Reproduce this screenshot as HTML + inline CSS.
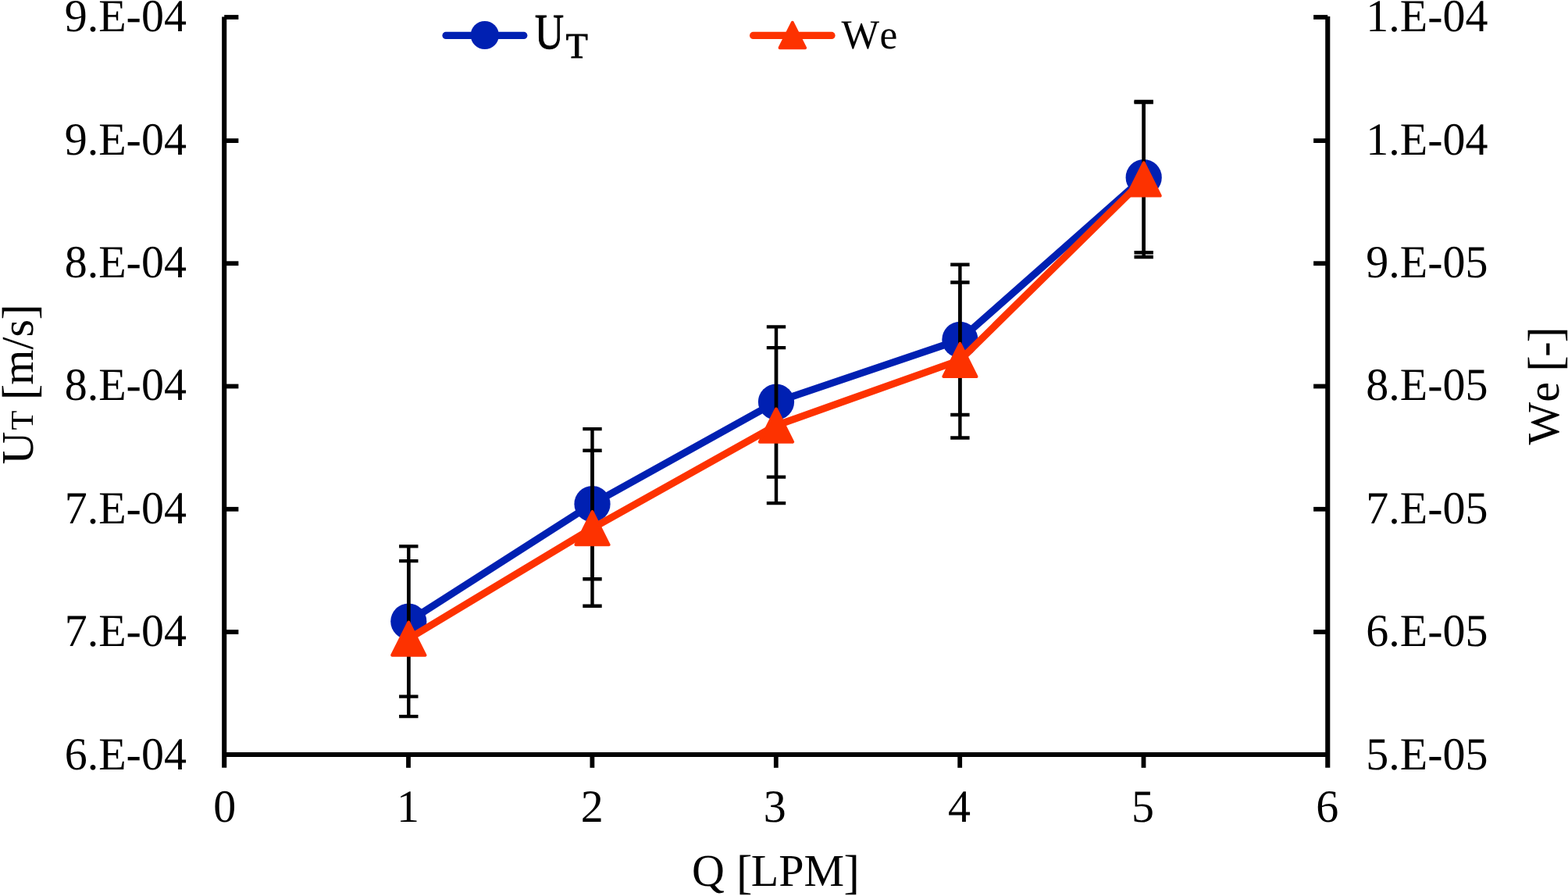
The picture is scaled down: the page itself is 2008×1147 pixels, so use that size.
<!DOCTYPE html>
<html lang="en"><head><meta charset="utf-8"><title>U_T and We versus Q</title>
<style>
html,body{margin:0;padding:0;background:#fff;}
body{width:2008px;height:1147px;overflow:hidden;}
svg{display:block;}
text{font-family:"Liberation Serif", "DejaVu Serif", serif;fill:#000;font-kerning:none;text-rendering:geometricPrecision;}
.tk{font-size:58px;}
.br{font-size:61.1px;}
.ax{stroke:#000;stroke-width:6.1;fill:none;stroke-linecap:butt;}
.tc{stroke:#000;stroke-width:5.8;fill:none;stroke-linecap:butt;}
.eb{stroke:#000;stroke-width:4.4;fill:none;stroke-linecap:butt;}
</style></head><body>
<svg width="2008" height="1147" viewBox="0 0 2008 1147">
<rect width="2008" height="1147" fill="#fff"/>
<g class="ax">
<path d="M287.20 21.50 V982.85"/>
<path d="M1700.25 20.90 V982.85"/>
<path d="M287.20 966.05 H1700.25"/>
</g>
<g class="tc">
<path d="M287.20 22.00 H305.40"/>
<path d="M1700.25 22.00 H1682.10"/>
<path d="M287.20 180.10 H305.40"/>
<path d="M1700.25 180.10 H1682.10"/>
<path d="M287.20 337.20 H305.40"/>
<path d="M1700.25 337.20 H1682.10"/>
<path d="M287.20 494.50 H305.40"/>
<path d="M1700.25 494.50 H1682.10"/>
<path d="M287.20 651.80 H305.40"/>
<path d="M1700.25 651.80 H1682.10"/>
<path d="M287.20 809.00 H305.40"/>
<path d="M1700.25 809.00 H1682.10"/>
<path d="M523.00 966.05 V982.85"/>
<path d="M758.40 966.05 V982.85"/>
<path d="M993.80 966.05 V982.85"/>
<path d="M1229.20 966.05 V982.85"/>
<path d="M1464.50 966.05 V982.85"/>
</g>
<g class="tk">
<text transform="translate(238.9 40.3) scale(1 1.015)" text-anchor="end">9.E-04</text>
<text transform="translate(238.9 197.5) scale(1 1.015)" text-anchor="end">9.E-04</text>
<text transform="translate(238.9 354.8) scale(1 1.015)" text-anchor="end">8.E-04</text>
<text transform="translate(238.9 512.2) scale(1 1.015)" text-anchor="end">8.E-04</text>
<text transform="translate(238.9 669.7) scale(1 1.015)" text-anchor="end">7.E-04</text>
<text transform="translate(238.9 827.2) scale(1 1.015)" text-anchor="end">7.E-04</text>
<text transform="translate(238.9 984.8) scale(1 1.015)" text-anchor="end">6.E-04</text>
<text transform="translate(1749.2 40.3) scale(1 1.015)">1.E-04</text>
<text transform="translate(1749.2 197.5) scale(1 1.015)">1.E-04</text>
<text transform="translate(1749.2 354.8) scale(1 1.015)">9.E-05</text>
<text transform="translate(1749.2 512.2) scale(1 1.015)">8.E-05</text>
<text transform="translate(1749.2 669.7) scale(1 1.015)">7.E-05</text>
<text transform="translate(1749.2 827.2) scale(1 1.015)">6.E-05</text>
<text transform="translate(1749.2 984.8) scale(1 1.015)">5.E-05</text>
<text transform="translate(287.7 1052.0) scale(1 1.015)" text-anchor="middle">0</text>
<text transform="translate(522.4 1052.0) scale(1 1.015)" text-anchor="middle">1</text>
<text transform="translate(758.2 1052.0) scale(1 1.015)" text-anchor="middle">2</text>
<text transform="translate(992.3 1052.0) scale(1 1.015)" text-anchor="middle">3</text>
<text transform="translate(1228.6 1052.0) scale(1 1.015)" text-anchor="middle">4</text>
<text transform="translate(1463.5 1052.0) scale(1 1.015)" text-anchor="middle">5</text>
<text transform="translate(1699.8 1052.0) scale(1 1.015)" text-anchor="middle">6</text>
<text x="886.0" y="1133.7">Q <tspan class="br" dy="3.6" dx="0.6">[</tspan><tspan dy="-3.6" dx="-1.6">LPM</tspan><tspan class="br" dy="3.6" dx="-0.6">]</tspan></text>
<text transform="translate(41.5 594.5) rotate(-90)">U<tspan font-size="41px" dx="2">T</tspan> <tspan class="br" dy="3.6" dx="-1.2">[</tspan><tspan dy="-3.6" dx="-0.8">m/s</tspan><tspan class="br" dy="3.6" dx="-0.6">]</tspan></text>
<text transform="translate(1995.5 569.5) rotate(-90)">We <tspan class="br" dy="3.6" dx="-1.35">[</tspan><tspan dy="-3.6" dx="-1.2">-</tspan><tspan class="br" dy="3.6" dx="-1.1">]</tspan></text>
</g>
<polyline points="523.3,795.5 758.5,645.2 994.0,514.5 1229.4,434.9 1464.7,227.2" fill="none" stroke="#0020B2" stroke-width="9.2" stroke-linejoin="round" stroke-linecap="round"/>
<circle cx="523.3" cy="795.5" r="23.1" fill="#0020B2"/>
<circle cx="758.5" cy="645.2" r="23.1" fill="#0020B2"/>
<circle cx="994.0" cy="514.5" r="23.1" fill="#0020B2"/>
<circle cx="1229.4" cy="434.9" r="23.1" fill="#0020B2"/>
<circle cx="1464.7" cy="227.2" r="23.1" fill="#0020B2"/>
<g class="eb">
<path d="M523.3 699.4 V891.6 M511.1 699.4 H535.5 M511.1 891.6 H535.5"/>
<path d="M523.3 718.1 V917.1 M511.1 718.1 H535.5 M511.1 917.1 H535.5"/>
<path d="M758.5 549.1 V741.3 M746.3 549.1 H770.7 M746.3 741.3 H770.7"/>
<path d="M758.5 576.7 V775.7 M746.3 576.7 H770.7 M746.3 775.7 H770.7"/>
<path d="M994.0 418.4 V610.6 M981.8 418.4 H1006.2 M981.8 610.6 H1006.2"/>
<path d="M994.0 445.1 V644.1 M981.8 445.1 H1006.2 M981.8 644.1 H1006.2"/>
<path d="M1229.4 338.8 V531.0 M1217.2 338.8 H1241.6 M1217.2 531.0 H1241.6"/>
<path d="M1229.4 361.5 V560.5 M1217.2 361.5 H1241.6 M1217.2 560.5 H1241.6"/>
<path d="M1464.7 131.1 V323.3 M1452.5 131.1 H1476.9 M1452.5 323.3 H1476.9"/>
<path d="M1464.7 130.0 V329.0 M1452.5 130.0 H1476.9 M1452.5 329.0 H1476.9"/>
</g>
<polyline points="523.3,817.6 758.5,676.2 994.0,544.6 1229.4,461.0 1464.7,229.5" fill="none" stroke="#FD3200" stroke-width="9.2" stroke-linejoin="round" stroke-linecap="round"/>
<polygon points="523.30,796.55 544.40,838.75 502.20,838.75" fill="#FD3200" stroke="#FD3200" stroke-width="4.0" stroke-linejoin="round"/>
<polygon points="758.50,655.10 779.60,697.30 737.40,697.30" fill="#FD3200" stroke="#FD3200" stroke-width="4.0" stroke-linejoin="round"/>
<polygon points="994.00,523.50 1015.10,565.70 972.90,565.70" fill="#FD3200" stroke="#FD3200" stroke-width="4.0" stroke-linejoin="round"/>
<polygon points="1229.40,439.90 1250.50,482.10 1208.30,482.10" fill="#FD3200" stroke="#FD3200" stroke-width="4.0" stroke-linejoin="round"/>
<polygon points="1464.70,208.40 1485.80,250.60 1443.60,250.60" fill="#FD3200" stroke="#FD3200" stroke-width="4.0" stroke-linejoin="round"/>
<path d="M571 45.4 H670.8" stroke="#0020B2" stroke-width="9.2" stroke-linecap="round" fill="none"/>
<circle cx="620.8" cy="45" r="18.1" fill="#0020B2"/>
<text transform="translate(684.9 61.9) scale(0.8 1)" font-size="64px" stroke="#000" stroke-width="1.1">U</text>
<text transform="translate(724.7 74.0)" font-size="46px" stroke="#000" stroke-width="0.9">T</text>
<path d="M964.6 45.4 H1065" stroke="#FD3200" stroke-width="9.2" stroke-linecap="round" fill="none"/>
<polygon points="1014.80,28.80 1031.00,61.20 998.60,61.20" fill="#FD3200" stroke="#FD3200" stroke-width="4.0" stroke-linejoin="round"/>
<text transform="translate(1077.6 61.5) scale(1 1.025)" font-size="51.5px">W<tspan dx="0.2">e</tspan></text>
</svg></body></html>
